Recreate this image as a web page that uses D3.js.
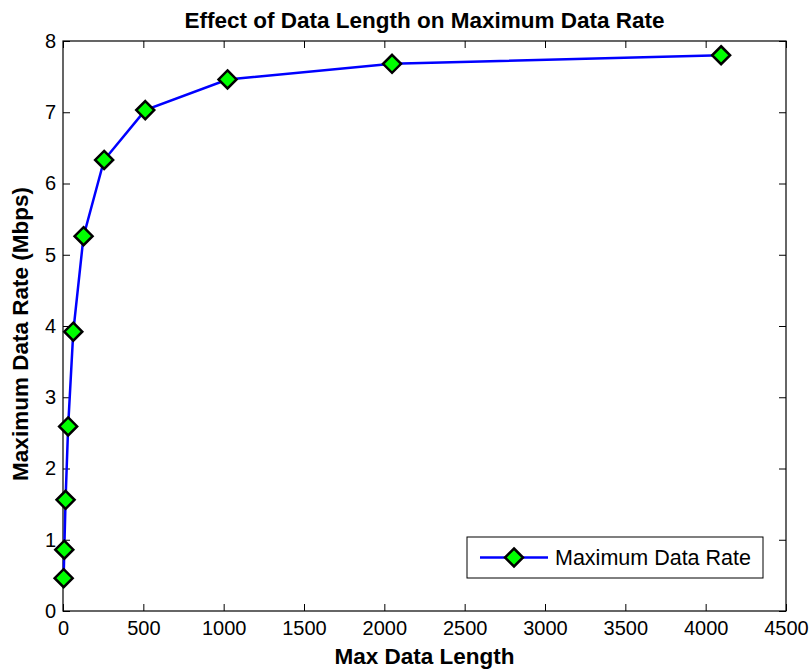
<!DOCTYPE html>
<html>
<head>
<meta charset="utf-8">
<script src="https://d3js.org/d3.v7.min.js"></script>
<style>
  body { margin: 0; background: #fff; }
  svg text { font-family: Arial, "Liberation Sans", Helvetica, sans-serif; }
</style>
</head>
<body>
<script>
// ******************** Data ***********************
var dataLength = [4, 8, 16, 32, 64, 128, 256, 512, 1024, 2048, 4096]
var dataRate = [0.46, 0.86, 1.56, 2.59, 3.92, 5.26, 6.33, 7.03, 7.46, 7.68, 7.80]
var xTicks = [0, 500, 1000, 1500, 2000, 2500, 3000, 3500, 4000, 4500]
var yTicks = [0, 1, 2, 3, 4, 5, 6, 7, 8]
var seriesName = 'Maximum Data Rate'

// ******************** Chart code ***********************
var width = 812, height = 670
var margin = {top: 41, right: 26, bottom: 59, left: 63}
var w = width - margin.left - margin.right
var h = height - margin.top - margin.bottom

var svg = d3.select('body').append('svg')
  .attr('width', width)
  .attr('height', height)

var g = svg.append('g')
  .attr('transform', 'translate(' + margin.left + ',' + margin.top + ')')

var x = d3.scaleLinear().domain([0, 4500]).range([0, w])
var y = d3.scaleLinear().domain([0, 8]).range([h, 0])

var tickLen = 7

// bottom / left axes with labels, ticks pointing inward
var xAxis = g.append('g')
  .attr('transform', 'translate(0,' + h + ')')
  .call(d3.axisBottom(x).tickValues(xTicks).tickSize(-tickLen).tickPadding(10).tickFormat(d3.format('d')))
var yAxis = g.append('g')
  .call(d3.axisLeft(y).tickValues(yTicks).tickSize(-tickLen).tickPadding(7))

// top / right mirror ticks
g.append('g')
  .call(d3.axisTop(x).tickValues(xTicks).tickSize(-tickLen).tickFormat(''))
g.append('g')
  .attr('transform', 'translate(' + w + ',0)')
  .call(d3.axisRight(y).tickValues(yTicks).tickSize(-tickLen).tickFormat(''))

g.selectAll('.domain').remove()
g.selectAll('.tick line').attr('stroke', '#000').attr('stroke-width', 1)
xAxis.selectAll('text').attr('font-size', 20).attr('fill', '#000')
yAxis.selectAll('text').attr('font-size', 20).attr('fill', '#000')

// axes box
g.append('rect')
  .attr('width', w).attr('height', h)
  .attr('fill', 'none').attr('stroke', '#000').attr('stroke-width', 1.2)

// line
var line = d3.line()
  .x(function(d, i) { return x(dataLength[i]) })
  .y(function(d) { return y(d) })

g.append('path')
  .datum(dataRate)
  .attr('d', line)
  .attr('fill', 'none')
  .attr('stroke', '#0000ff')
  .attr('stroke-width', 2.5)

var diamond = function(s) {
  return 'M0,' + (-s) + 'L' + s + ',0L0,' + s + 'L' + (-s) + ',0Z'
}

g.selectAll('.marker')
  .data(dataRate)
  .enter().append('path')
  .attr('class', 'marker')
  .attr('transform', function(d, i) { return 'translate(' + x(dataLength[i]) + ',' + y(d) + ')' })
  .attr('d', diamond(9))
  .attr('fill', '#00ff00')
  .attr('stroke', '#000')
  .attr('stroke-width', 2.5)

// title and labels
svg.append('text')
  .attr('x', margin.left + w / 2).attr('y', 28)
  .attr('text-anchor', 'middle')
  .attr('font-size', 22.5).attr('font-weight', 'bold')
  .text('Effect of Data Length on Maximum Data Rate')

svg.append('text')
  .attr('x', margin.left + w / 2).attr('y', 664)
  .attr('text-anchor', 'middle')
  .attr('font-size', 22.5).attr('font-weight', 'bold')
  .text('Max Data Length')

svg.append('text')
  .attr('transform', 'translate(28,334) rotate(-90)')
  .attr('text-anchor', 'middle')
  .attr('font-size', 22.5).attr('font-weight', 'bold')
  .text('Maximum Data Rate (Mbps)')

// legend
var lg = svg.append('g').attr('transform', 'translate(467,537)')
lg.append('rect')
  .attr('width', 296).attr('height', 41)
  .attr('fill', '#fff').attr('stroke', '#000').attr('stroke-width', 1)
lg.append('line')
  .attr('x1', 13).attr('x2', 81).attr('y1', 20.5).attr('y2', 20.5)
  .attr('stroke', '#0000ff').attr('stroke-width', 2.5)
lg.append('path')
  .attr('transform', 'translate(47,20.5)')
  .attr('d', diamond(9))
  .attr('fill', '#00ff00').attr('stroke', '#000').attr('stroke-width', 2.5)
lg.append('text')
  .attr('x', 88).attr('y', 28)
  .attr('font-size', 21.5)
  .text(seriesName)
</script>
</body>
</html>
